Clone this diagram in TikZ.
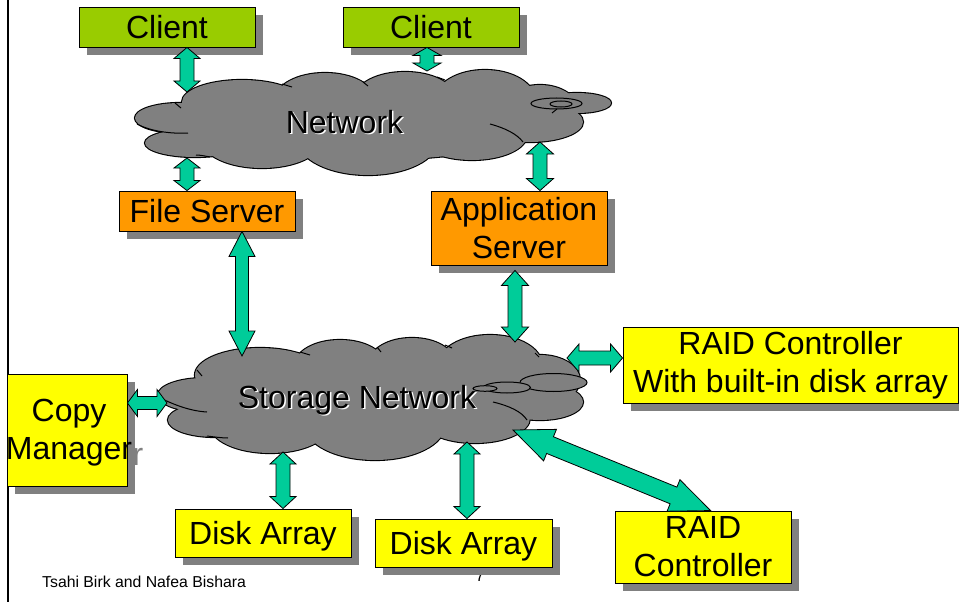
\documentclass[tikz,border=0pt]{standalone}
\usepackage{fontspec}
\setmainfont{Liberation Sans}
\usetikzlibrary{calc}

\definecolor{clientgreen}{HTML}{99CC00}
\definecolor{serverorange}{HTML}{FF9900}
\definecolor{storeyellow}{HTML}{FFFF00}
\definecolor{shadowgray}{HTML}{808080}
\definecolor{cloudgray}{HTML}{808080}
\definecolor{linkteal}{HTML}{00CC99}

\newcommand\lblfont{\fontsize{32}{38}\selectfont}
\newcommand\smallfont{\fontsize{15.8}{18}\selectfont}

\tikzset{
  box/.style={draw=black, line width=0.9pt, inner sep=0pt, align=center, font=\lblfont},
  link/.style={fill=linkteal, draw=black, line width=0.8pt, line join=miter},
  crease/.style={draw=black, line width=1pt},
  cloudrim/.style={draw=black, line width=2.2pt},
  discline/.style={draw=black, fill=cloudgray, line width=1pt},
}

% box with a drop shadow: [options]{name}{left}{top}{right}{bottom}{fill}{text}
\newcommand\panel[8][]{%
  \fill[shadowgray] (#3+8,#4+8) rectangle (#5+8,#6+8);
  \node[box, fill=#7, minimum width={(#5-#3)*1pt}, minimum height={(#6-#4)*1pt}, #1]
    (#2) at ({(#3+#5)/2},{(#4+#6)/2}) {#8};
}

% cloud silhouette as a union of ellipses: cx/cy/rx/ry
\newcommand\cloudbody[1]{%
  \foreach \cx/\cy/\rx/\ry in {#1}
    \draw[cloudrim] (\cx,\cy) ellipse [x radius=\rx, y radius=\ry];
  \foreach \cx/\cy/\rx/\ry in {#1}
    \fill[cloudgray] (\cx,\cy) ellipse [x radius=\rx, y radius=\ry];
}

% double-headed block arrow: {from}{to}{shaft half-width}{head half-width}{head length}
\newcommand\biarrow[5]{%
  \coordinate (ha) at ($(#1)!#5!(#2)$);
  \coordinate (hb) at ($(#2)!#5!(#1)$);
  \filldraw[link] (#1)
    -- ($(ha)!#4!90:(#2)$) -- ($(ha)!#3!90:(#2)$)
    -- ($(hb)!#3!-90:(#1)$) -- ($(hb)!#4!-90:(#1)$)
    -- (#2)
    -- ($(hb)!#4!90:(#1)$) -- ($(hb)!#3!90:(#1)$)
    -- ($(ha)!#3!-90:(#2)$) -- ($(ha)!#4!-90:(#2)$)
    -- cycle;
}

\begin{document}
\begin{tikzpicture}[x=1pt,y=-1pt]
\useasboundingbox (0,0) rectangle (959,602);
\fill[white] (0,0) rectangle (959,602);

% slide margin rule
\draw[line width=2pt] (8,0) -- (8,602);

% footer
\node[anchor=base west, font=\smallfont, inner sep=0pt] (credit) at (42,587) {Tsahi Birk and Nafea Bishara};
\node[anchor=base, font=\smallfont, inner sep=0pt] (pageno) at (480,581) {7};

% ---------- Network cloud ----------
\cloudbody{180/118/45/15, 195/143/50/14, 242/102/60/22, 325/100/50/27,
  405/98/50/26, 485/100/50/30, 540/110/38/25, 530/122/53/20,
  262/140/60/28, 368/140/70/35, 472/135/55/25, 370/122/170/38, 577/103/34/10}
\draw[crease] (137,124) .. controls (150,131) and (170,134) .. (188,133);
\draw[crease] (196,155) .. controls (200,155) and (205,156) .. (210,157);
\draw[crease] (175,103) -- (181,108);
\draw[crease] (282,84) -- (292,87);
\draw[crease] (363,82) -- (368,86);
\draw[crease] (437,77) -- (445,80);
\draw[crease] (490,124) .. controls (505,128) and (517,134) .. (523,142);
\draw[crease] (552,113) -- (557,109);
\draw[line width=1pt] (556.5,103.5) ellipse [x radius=25.5, y radius=5.5];
\draw[line width=1pt] (561,104) ellipse [x radius=11, y radius=3];
\node[anchor=base, font=\lblfont, text=white, inner sep=0pt] at (346,134.5) {Network};
\node[anchor=base, font=\lblfont, inner sep=0pt] (network) at (344.5,133) {Network};

% ---------- Storage Network cloud ----------
\cloudbody{205/395/47/17, 215/420/47/17, 260/375/65/27, 340/365/45/25,
  412/362/42/24, 490/365/52/30, 540/380/40/25, 540/402/43/18,
  270/425/60/28, 375/425/70/35, 475/418/55/25, 380/398/160/35}
\draw[crease] (160,398) .. controls (175,405) and (190,411) .. (207,412);
\draw[crease] (207,436) .. controls (215,437) and (222,438) .. (228,438);
\draw[crease] (197,370) -- (202,376);
\draw[crease] (300,352) -- (310,355);
\draw[crease] (377,347) -- (381,352);
\draw[crease] (445,345) -- (452,348);
\draw[crease] (535,353) -- (539,357);
\draw[crease] (493,402) .. controls (510,406) and (522,412) .. (527,420);
\draw[discline] (553.5,382.5) ellipse [x radius=33.5, y radius=9];
\draw[discline] (507,387.5) ellipse [x radius=23.5, y radius=5.5];
\draw[discline] (485,388.5) ellipse [x radius=12, y radius=2.8];
\node[anchor=base, font=\lblfont, text=white, inner sep=0pt] at (358.5,409.5) {Storage Network};
\node[anchor=base, font=\lblfont, inner sep=0pt] (storage) at (357,408) {Storage Network};

% ---------- boxes ----------
\panel{client1}{79}{7}{255}{47}{clientgreen}{Client}
\panel{client2}{343}{7}{519}{47}{clientgreen}{Client}
\panel{fileserver}{119}{191}{295}{231}{serverorange}{File Server}
\panel{appserver}{431}{191}{607}{265}{serverorange}{Application\\Server}
\panel{raidbuilt}{623}{327}{958}{403}{storeyellow}{RAID Controller\\With built-in disk array}
\panel{raid}{615}{511}{791}{583}{storeyellow}{RAID\\Controller}
\panel[text depth=0pt]{disk1}{175}{509}{351}{557}{storeyellow}{Disk Array}
\panel[text depth=0pt]{disk2}{375}{519}{552}{567}{storeyellow}{Disk Array}

% copy manager: the last letter of its label runs past the box,
% so the shadow shows a grey copy of it
\fill[shadowgray] (15,382) rectangle (135,494);
\node[anchor=base west, font=\lblfont, text=shadowgray, inner sep=0pt] (copyshade) at (132.5,465) {r};
\node[box, fill=storeyellow, minimum width=120pt, minimum height=112pt] (copymgr) at (67,430) {};
\node[font=\lblfont, align=center, inner sep=0pt] (copylabel) at (69,433) {Copy\\Manager};

% ---------- connection ports ----------
\coordinate (n-c1) at (187,92);
\coordinate (n-fs) at (187,158);
\coordinate (n-c2) at (427,71);
\coordinate (n-as) at (540,142);
\coordinate (s-fs) at (242,356);
\coordinate (s-as) at (515,342);
\coordinate (s-cm) at (167,403);
\coordinate (s-rb) at (567,358);
\coordinate (s-rc) at (513,430);
\coordinate (s-d1) at (283,452);
\coordinate (s-d2) at (467,442);

\coordinate (c1-p) at (client1.south -| n-c1);
\coordinate (fs-p) at (fileserver.north -| n-fs);
\coordinate (c2-p) at (client2.south -| n-c2);
\coordinate (as-p) at (appserver.north -| n-as);
\coordinate (fs-q) at (fileserver.south -| s-fs);
\coordinate (as-q) at ($(appserver.south -| s-as)+(0,5)$);
\coordinate (cm-p) at (copymgr.east |- s-cm);
\coordinate (rb-p) at (raidbuilt.west |- s-rb);
\coordinate (rc-p) at ($(raid.north west)+(96,0)$);
\coordinate (d1-p) at (disk1.north -| s-d1);
\coordinate (d2-p) at (disk2.north -| s-d2);

% ---------- links ----------
\biarrow{c1-p}{n-c1}{7pt}{13pt}{11pt}
\biarrow{n-fs}{fs-p}{7pt}{13pt}{10pt}
\biarrow{c2-p}{n-c2}{7pt}{14pt}{8pt}
\biarrow{n-as}{as-p}{7pt}{13.5pt}{12pt}
\biarrow{fs-q}{s-fs}{6.5pt}{13pt}{25pt}
\biarrow{as-q}{s-as}{7pt}{13.5pt}{15pt}
\biarrow{cm-p}{s-cm}{6.5pt}{13.5pt}{10pt}
\biarrow{s-rb}{rb-p}{7pt}{14pt}{12pt}
\biarrow{s-rc}{rc-p}{9pt}{17pt}{40pt}
\biarrow{s-d1}{d1-p}{7pt}{13pt}{12pt}
\biarrow{s-d2}{d2-p}{7pt}{13pt}{12pt}
\end{tikzpicture}
\end{document}
